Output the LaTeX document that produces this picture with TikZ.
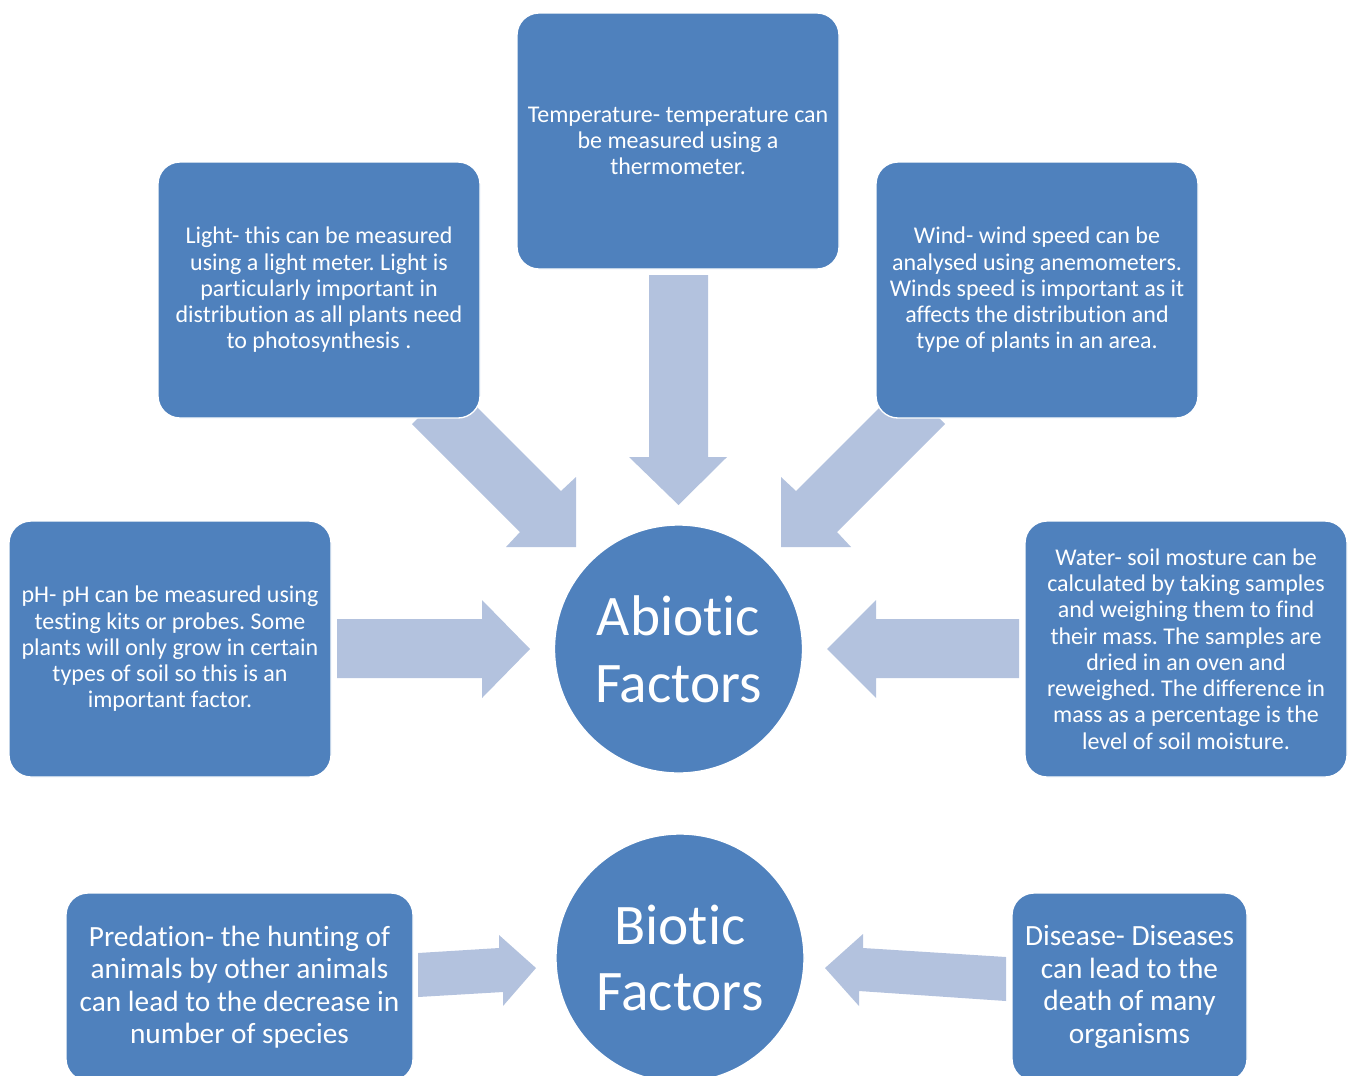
\documentclass[tikz,border=0pt]{standalone}
\usepackage{fontspec}
\setmainfont{Carlito}[Ligatures=NoCommon]
\definecolor{boxblue}{HTML}{4F81BD}
\definecolor{arrowblue}{HTML}{B3C2DE}
\frenchspacing
\begin{document}
\begin{tikzpicture}[x=0.75pt,y=-0.75pt,
  factbox/.style={rectangle, rounded corners=16.5pt, fill=boxblue, draw=white,
    line width=1pt, text=white, align=center, inner sep=0pt,
    minimum width=241.5pt, minimum height=192pt,
    font=\fontsize{18}{19.7}\selectfont},
  bioticbox/.style={factbox, minimum height=141pt,
    font=\fontsize{22}{24.4}\selectfont},
  hub/.style={circle, fill=boxblue, draw=white, line width=1pt, text=white,
    align=center, inner sep=0pt, minimum size=186pt,
    font=\fontsize{43}{50}\selectfont},
  blockarrow/.style={fill=arrowblue, draw=none}]
\useasboundingbox (0,0) rectangle (1351,1075);
\clip (0,0) rectangle (1351,1075);

% block arrows pointing towards the two hubs
\fill[blockarrow] (649,275) -- (708,275) -- (708,457) -- (727,457) -- (678.5,505)
  -- (629,457) -- (649,457) -- cycle;
\fill[blockarrow] (412,424) -- (453,383) -- (561,491) -- (576,477) -- (576,547)
  -- (506,547) -- (520,532) -- cycle;
\fill[blockarrow] (945,424) -- (904,383) -- (796,491) -- (781,477) -- (781,547)
  -- (851,547) -- (837,532) -- cycle;
\fill[blockarrow] (337,619) -- (482,619) -- (482,600) -- (530,649) -- (482,698)
  -- (482,678) -- (337,678) -- cycle;
\fill[blockarrow] (1019,619) -- (876,619) -- (876,600) -- (827,649) -- (876,698)
  -- (876,678) -- (1019,678) -- cycle;
\fill[blockarrow] (418,953) -- (499,948) -- (499,935) -- (536,968) -- (503,1006)
  -- (503,992) -- (418,997) -- cycle;
\fill[blockarrow] (1006,957) -- (863,948) -- (863,934) -- (825,968) -- (859,1006)
  -- (859,991) -- (1006,1001) -- cycle;

% abiotic factors
\node[factbox] (temp) at (678,141) {Temperature- temperature can\\ be measured using a\\ thermometer.};
\node[factbox] (light) at (319,290) {Light- this can be measured\\ using a light meter. Light is\\ particularly important in\\ distribution as all plants need\\ to photosynthesis .};
\node[factbox] (wind) at (1037,290) {Wind- wind speed can be\\ analysed using anemometers.\\ Winds speed is important as it\\ affects the distribution and\\ type of plants in an area.};
\node[factbox] (ph) at (170,649) {pH- pH can be measured using\\ testing kits or probes. Some\\ plants will only grow in certain\\ types of soil so this is an\\ important factor.};
\node[factbox] (water) at (1186,649) {Water- soil mosture can be\\ calculated by taking samples\\ and weighing them to find\\ their mass. The samples are\\ dried in an oven and\\ reweighed. The difference in\\ mass as a percentage is the\\ level of soil moisture.};
\node[hub] (abiotic) at (678.5,649) {Abiotic\\ Factors};

% biotic factors
\node[hub] (biotic) at (680,958) {Biotic\\ Factors};
\node[bioticbox, minimum width=260.25pt] (predation) at (239.5,987) {Predation- the hunting of\\ animals by other animals\\ can lead to the decrease in\\ number of species};
\node[bioticbox, minimum width=176.25pt] (disease) at (1129.5,987) {Disease- Diseases\\ can lead to the\\ death of many\\ organisms};
\end{tikzpicture}
\end{document}
